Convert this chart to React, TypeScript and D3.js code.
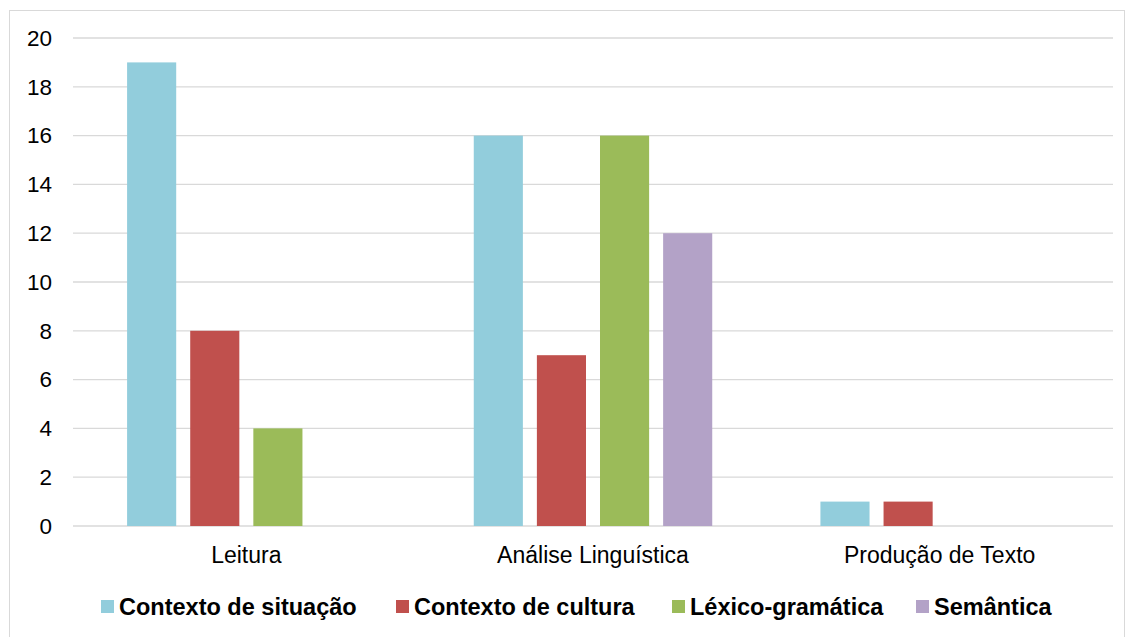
import React from "react";
import * as d3 from "d3";

const categories = ["Leitura", "Análise Linguística", "Produção de Texto"];
const seriesNames = ["Contexto de situação", "Contexto de cultura", "Léxico-gramática", "Semântica"];
const contextoSituacao = [19, 16, 1];
const contextoCultura = [8, 7, 1];
const lexicoGramatica = [4, 16, 0];
const semantica = [0, 12, 0];
const yTicks = [0, 2, 4, 6, 8, 10, 12, 14, 16, 18, 20];
const colors = ["#92CDDC", "#C0504D", "#9BBB59", "#B3A2C7"];

const seriesValues = [contextoSituacao, contextoCultura, lexicoGramatica, semantica];

export default function App() {
  const W = 1133, H = 637;
  const left = 73, right = 1113, top = 38, bottom = 526;
  const x0 = d3.scaleBand<string>().domain(categories).range([left, right]).paddingInner(0).paddingOuter(0);
  const x1 = d3.scaleBand<string>().domain(seriesNames).range([0, x0.bandwidth()]).paddingInner(0.222).paddingOuter(0.857);
  const y = d3.scaleLinear().domain([0, 20]).range([bottom, top]);
  const font = "'Liberation Sans', Arial, sans-serif";

  const legendX = [101, 396, 672, 916];

  return (
    <svg width={W} height={H} style={{ position: "absolute", left: 0, top: 0, background: "#fff" }} fontFamily={font}>
      <rect x={9.5} y={10.5} width={1115} height={640} fill="#fff" stroke="#D9D9D9" strokeWidth={1} />
      {yTicks.map((t) => (
        <g key={t}>
          <line x1={left} x2={right} y1={y(t)} y2={y(t)} stroke="#D9D9D9" strokeWidth={1.3} />
          <text x={52} y={y(t)} dy="0.35em" textAnchor="end" fontSize={22.5} fill="#000">{t}</text>
        </g>
      ))}
      {categories.map((c, ci) => (
        <g key={c}>
          {seriesNames.map((s, si) => {
            const v = seriesValues[si][ci];
            if (!v) return null;
            return (
              <rect key={s} x={(x0(c) as number) + (x1(s) as number)} y={y(v)} width={x1.bandwidth()} height={y(0) - y(v)} fill={colors[si]} />
            );
          })}
          <text x={(x0(c) as number) + x0.bandwidth() / 2} y={555} dy="0.35em" textAnchor="middle" fontSize={23} fill="#000">{c}</text>
        </g>
      ))}
      {seriesNames.map((s, si) => (
        <g key={s}>
          <rect x={legendX[si]} y={600} width={13} height={13} fill={colors[si]} />
          <text x={legendX[si] + 18} y={606.5} dy="0.35em" fontSize={23.5} fontWeight="bold" fill="#000">{s}</text>
        </g>
      ))}
    </svg>
  );
}
